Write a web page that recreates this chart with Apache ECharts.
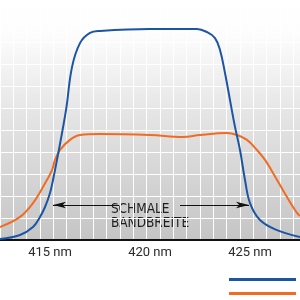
<!doctype html>
<html>
<head>
<meta charset="utf-8">
<title>Bandbreite</title>
<script src="https://cdn.jsdelivr.net/npm/echarts@6/dist/echarts.min.js"></script>
<style>
  html, body { margin: 0; padding: 0; background: #fff; }
  #container { width: 300px; height: 300px; }
</style>
</head>
<body>
<div id="container"></div>
<script type="text/javascript">
    // Wellenlänge (nm) und relative Werte
    var blueNm  = [412.5, 413.5, 414.15, 414.5, 414.75, 415.0, 415.15, 415.35, 415.8, 416.1, 416.5, 417.0, 417.5, 420.0, 422.35, 422.85, 423.25, 423.5, 423.75, 424.0, 424.25, 424.5, 424.75, 425.0, 425.5, 426.35, 427.5];
    var blueVal = [0.05, 0.23, 0.59, 1.05, 1.5, 2.14, 2.73, 3.64, 5.9, 7.86, 8.95, 9.41, 9.5, 9.59, 9.59, 9.45, 9.18, 8.64, 7.59, 6.36, 5.14, 4.09, 2.73, 1.68, 0.91, 0.45, 0.14];

    var orangeNm  = [412.5, 413.5, 414.15, 414.65, 415.1, 415.25, 415.5, 416.0, 416.5, 417.5, 420.0, 421.65, 422.5, 423.85, 424.35, 424.85, 425.35, 425.75, 426.15, 426.85, 427.35, 427.5];
    var orangeVal = [0.59, 1.05, 1.68, 2.41, 3.18, 3.64, 4.09, 4.55, 4.77, 4.82, 4.77, 4.68, 4.77, 4.86, 4.77, 4.55, 4.09, 3.64, 3.05, 1.95, 1.23, 1.09];

    var tickNm = [415, 420, 425];
    var bandLabel = ['SCHMALE', 'BANDBREITE'];

    function pairs(xs, ys) {
        return xs.map(function (x, i) { return [x, ys[i]]; });
    }

    var yMax = 240 / 22;
    var arrowY = 1.59;

    var myChart = echarts.init(document.getElementById('container'));
    var option = {
        animation: false,
        grid: [
            {   // Hintergrund mit Raster
                left: 0, top: 0, width: 300, height: 240,
                outerBoundsMode: 'none',
                show: true, borderWidth: 0,
                backgroundColor: {
                    type: 'linear', x: 0, y: 0, x2: 0, y2: 1,
                    colorStops: [
                        { offset: 0, color: '#ffffff' },
                        { offset: 0.14, color: '#fdfdfd' },
                        { offset: 0.5, color: '#e3e3e3' },
                        { offset: 1, color: '#c5c5c5' }
                    ]
                }
            },
            { left: 0, top: 0, width: 300, height: 240, outerBoundsMode: 'none' }
        ],
        xAxis: [
            {
                gridIndex: 0, type: 'value', min: 0, max: 22.5, interval: 1,
                axisLine: { show: false }, axisTick: { show: false }, axisLabel: { show: false },
                splitLine: { lineStyle: { color: '#ffffff', width: 1 } }
            },
            {
                gridIndex: 1, type: 'value', min: 412.5, max: 427.5,
                axisLine: { onZero: false, lineStyle: { color: '#111', width: 2 } },
                axisTick: { show: false },
                splitLine: { show: false },
                axisLabel: {
                    customValues: tickNm,
                    margin: 6,
                    color: '#2a2a2a',
                    fontSize: 13,
                    fontFamily: 'Roboto',
                    formatter: '{value} nm'
                }
            }
        ],
        yAxis: [
            {
                gridIndex: 0, type: 'value', min: 0, max: yMax, interval: 1,
                axisLine: { show: false }, axisTick: { show: false }, axisLabel: { show: false },
                splitLine: { lineStyle: { color: '#ffffff', width: 1 } }
            },
            {
                gridIndex: 1, type: 'value', min: 0, max: yMax, show: false
            }
        ],
        legend: {
            left: 224, top: 273, orient: 'vertical',
            icon: 'rect', itemWidth: 67, itemHeight: 3, itemGap: 11,
            formatter: function () { return ''; },
            data: ['blau', 'orange']
        },
        graphic: [
            {
                type: 'text', left: 'center', top: 202,
                style: {
                    text: bandLabel[0] + '\n' + bandLabel[1],
                    align: 'center', fill: '#1e1e1e',
                    font: '13.5px "Liberation Sans Narrow", "DejaVu Sans Condensed", Roboto',
                    lineHeight: 14
                }
            }
        ],
        series: [
            {
                name: 'orange', type: 'line', xAxisIndex: 1, yAxisIndex: 1,
                smooth: 0.4, symbol: 'none',
                color: '#f26b22',
                lineStyle: { width: 2 },
                data: pairs(orangeNm, orangeVal)
            },
            {
                name: 'blau', type: 'line', xAxisIndex: 1, yAxisIndex: 1,
                smooth: 0.4, symbol: 'none',
                color: '#1c55a3',
                lineStyle: { width: 2 },
                data: pairs(blueNm, blueVal),
                markLine: {
                    silent: true, symbol: ['none', 'arrow'], symbolSize: [5, 13],
                    label: { show: false },
                    lineStyle: { color: '#111', width: 1.2, type: 'solid' },
                    data: [
                        [{ coord: [418.45, arrowY] }, { coord: [415.15, arrowY] }],
                        [{ coord: [421.5, arrowY] }, { coord: [424.95, arrowY] }]
                    ]
                }
            }
        ]
    };
    myChart.setOption(option);
</script>
</body>
</html>
